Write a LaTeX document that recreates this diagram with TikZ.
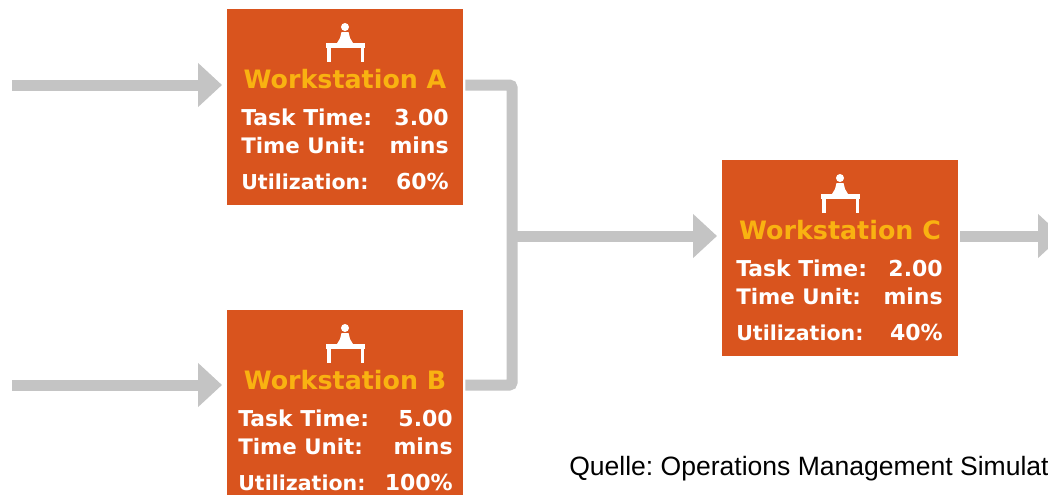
\documentclass[tikz,border=0pt]{standalone}
\usepackage{fontspec}
\setmainfont{Liberation Sans}
\newfontfamily\wsfont{DejaVu Sans}
\usetikzlibrary{arrows.meta}
\frenchspacing
\definecolor{wsorange}{HTML}{D9541E}
\definecolor{wsyellow}{HTML}{F9B211}
\definecolor{wsgray}{HTML}{C4C4C4}
\tikzset{
  wsbox/.style={fill=wsorange,draw=none,inner sep=0pt,outer sep=0pt,anchor=north west,minimum width=177.25pt,minimum height=147pt},
  wstitle/.style={text=wsyellow,inner sep=0pt,anchor=base,font=\wsfont\bfseries\fontsize{19}{22}\selectfont},
  wsleft/.style={text=white,inner sep=0pt,anchor=base west,font=\wsfont\bfseries\fontsize{#1}{20}\selectfont},
  wsright/.style={text=white,inner sep=0pt,anchor=base east,font=\wsfont\bfseries\fontsize{16.5}{20}\selectfont},
  wsicon/.style={fill=white,draw=none},
  flow/.style={draw=wsgray,line width=8.25pt},
  flowarrow/.style={flow,-{Triangle[length=18pt,width=32pt]},shorten >=3.75pt},
}
% name, x, y, letter, task time, utilization, left offset, right offset
\newcommand{\wsstation}[8]{%
  \node[wsbox] (#1) at (#2,#3) {};
  \begin{scope}[shift={(#2,#3)}]
    \fill[wsicon] (118,18) circle (4);
    \fill[wsicon] (114.5,23) -- (121.5,23) -- (123,29) -- (126,34) -- (110,34) -- (113,29) -- cycle;
    \fill[wsicon] (99,34) rectangle (138,38.5);
    \fill[wsicon] (100,38.5) rectangle (103.5,53);
    \fill[wsicon] (133.5,38.5) rectangle (137,53);
    \node[wstitle] (#1title) at (118,79) {Workstation #4};
    \node[wsleft=16.4] (#1l1) at (#7,116) {Task Time:};
    \node[wsright]     (#1r1) at (#8,116) {#5};
    \node[wsleft=16]   (#1l2) at (#7,144) {Time Unit:};
    \node[wsright]     (#1r2) at (#8,144) {mins};
    \node[wsleft=15.4] (#1l3) at (#7,180) {Utilization:};
    \node[wsright]     (#1r3) at (#8,180) {#6};
  \end{scope}%
}
\begin{document}
\begin{tikzpicture}[x=0.75pt,y=-0.75pt]
  \clip (0,0) rectangle (1048,494);
  \fill[white] (0,0) rectangle (1048,494);
  \coordinate (inA) at (12,85);
  \coordinate (inB) at (12,385);
  \coordinate (juncA) at (512,85);
  \coordinate (juncB) at (512,385);
  \coordinate (juncC) at (512,236);
  \coordinate (outC) at (1062,236);
  \wsstation{a}{227}{9}{A}{3.00}{60\%}{14}{222}
  \wsstation{b}{227}{310}{B}{5.00}{100\%}{11}{226}
  \wsstation{c}{722}{160}{C}{2.00}{40\%}{14}{221}
  \draw[flowarrow] (inA) -- (a.west |- inA);
  \draw[flowarrow] (inB) -- (b.west |- inB);
  \draw[flow,rounded corners=2pt] ([xshift=1.5pt]a.east |- juncA) -- (juncA) -- (juncB) -- ([xshift=1.5pt]b.east |- juncB);
  \draw[flowarrow] (juncC) -- (c.west |- juncC);
  \draw[flowarrow,shorten >=0pt] ([xshift=1.5pt]c.east |- juncC) -- (outC);
  \node[inner sep=0pt,anchor=base west,font=\fontsize{19.9}{24}\selectfont] (src) at (569,475) {Quelle: Operations Management Simulat};
\end{tikzpicture}
\end{document}
